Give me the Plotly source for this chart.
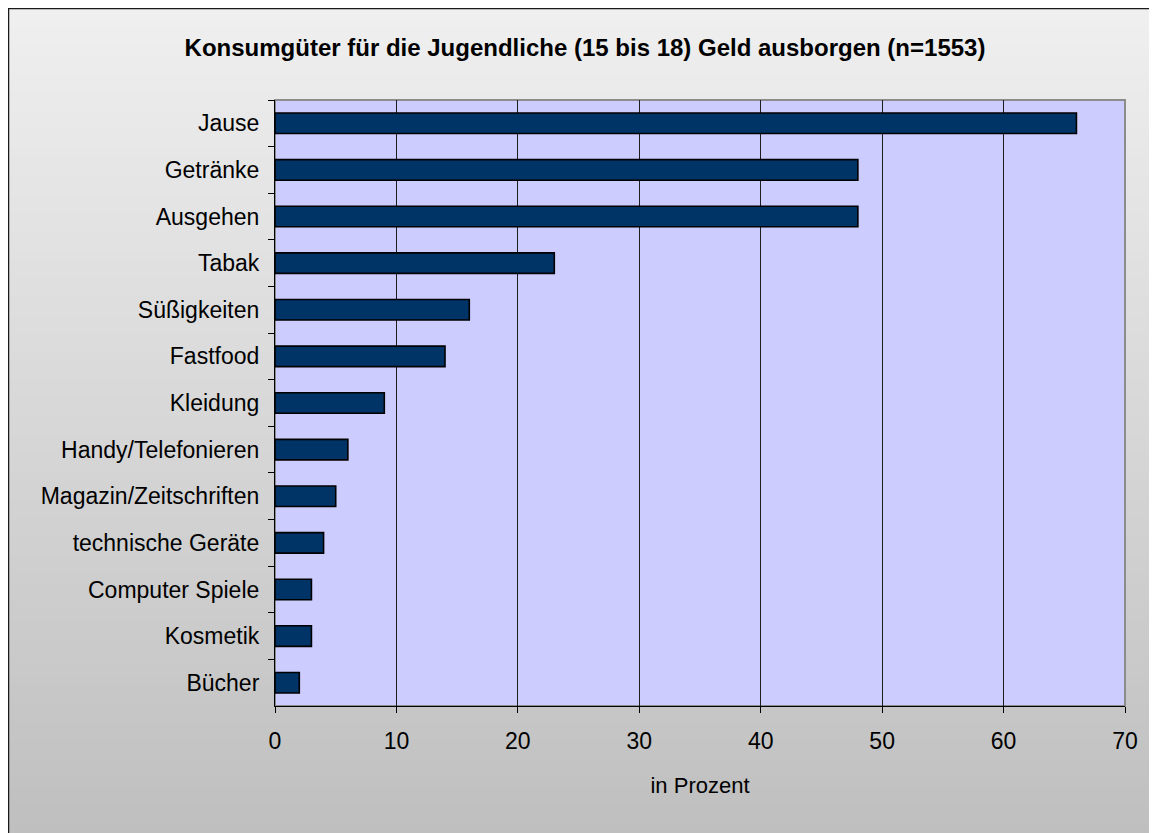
import plotly.graph_objects as go

categories = ["Jause", "Getränke", "Ausgehen", "Tabak", "Süßigkeiten", "Fastfood",
              "Kleidung", "Handy/Telefonieren", "Magazin/Zeitschriften",
              "technische Geräte", "Computer Spiele", "Kosmetik", "Bücher"]
values = [66, 48, 48, 23, 16, 14, 9, 6, 5, 4, 3, 3, 2]
x_ticks = [0, 10, 20, 30, 40, 50, 60, 70]

title_text = "Konsumgüter für die Jugendliche (15 bis 18) Geld ausborgen (n=1553)"
x_title = "in Prozent"

OFF = 8  # page body margin
W, H = 1157 - OFF, 833 - OFF
L, R, T, B = 275 - OFF, 32, 100 - OFF, 127
pw, ph = W - L - R, H - T - B

def px(page_x):
    return (page_x - OFF - L) / pw

def py(page_y):
    return (H - B - (page_y - OFF)) / ph

FONT = "Liberation Sans, Arial, sans-serif"

fig = go.Figure()
fig.add_trace(go.Bar(
    x=values, y=categories, orientation="h",
    marker=dict(color="#003366", line=dict(color="#000000", width=1.6)),
    width=0.44,
    hoverinfo="x+y",
))

shapes = []
N = 90
top_c, bot_c = 240, 191
for i in range(N):
    y0p = 833 * i / N
    y1p = 833 * (i + 1) / N + 1
    c = round(top_c + (bot_c - top_c) * (i + 0.5) / N)
    shapes.append(dict(type="rect", xref="paper", yref="paper", layer="below",
                       x0=px(-5), x1=px(1170),
                       y0=py(y1p), y1=py(y0p),
                       fillcolor=f"rgb({c},{c},{c})", line=dict(width=0)))
# outer chart border
shapes.append(dict(type="rect", xref="paper", yref="paper", layer="below",
                   x0=px(8.5), x1=px(1180),
                   y0=py(850), y1=py(8.5),
                   fillcolor="rgba(0,0,0,0)", line=dict(color="#1a1a1a", width=1.5)))
# plot area
shapes.append(dict(type="rect", xref="paper", yref="paper", layer="below",
                   x0=0, x1=1, y0=0, y1=1,
                   fillcolor="#ccccff", line=dict(color="#8c8c8c", width=2)))

fig.update_layout(
    width=W, height=H,
    margin=dict(l=L, r=R, t=T, b=B, pad=0),
    paper_bgcolor="#e0e0e0",
    plot_bgcolor="rgba(0,0,0,0)",
    shapes=shapes,
    showlegend=False,
    font=dict(family=FONT, color="#000000", size=22),
    title=dict(text="<b>" + title_text + "</b>", x=(585 - OFF) / W, xanchor="center",
               y=1 - (48 - OFF) / H, yanchor="middle",
               font=dict(family=FONT, size=24, color="#000000")),
    xaxis=dict(
        range=[0, 70], tickvals=x_ticks, ticktext=[str(t) for t in x_ticks],
        showgrid=True, gridcolor="#1e1e1e", gridwidth=1,
        showline=True, linecolor="#000000", linewidth=1.2,
        ticks="outside", ticklen=6, tickcolor="#000000", tickwidth=1,
        tickfont=dict(family=FONT, size=23),
        ticklabelstandoff=8,
        title=dict(text=x_title, font=dict(family=FONT, size=22), standoff=24),
        zeroline=False, fixedrange=True,
    ),
    yaxis=dict(
        autorange="reversed", type="category",
        showgrid=False,
        showline=True, linecolor="#000000", linewidth=1.2,
        ticks="outside", ticklen=6, tickcolor="#000000", tickwidth=1,
        tickson="boundaries",
        tickfont=dict(family=FONT, size=23),
        ticklabelstandoff=10,
        zeroline=False, fixedrange=True,
    ),
)

fig.write_html("out.html")
